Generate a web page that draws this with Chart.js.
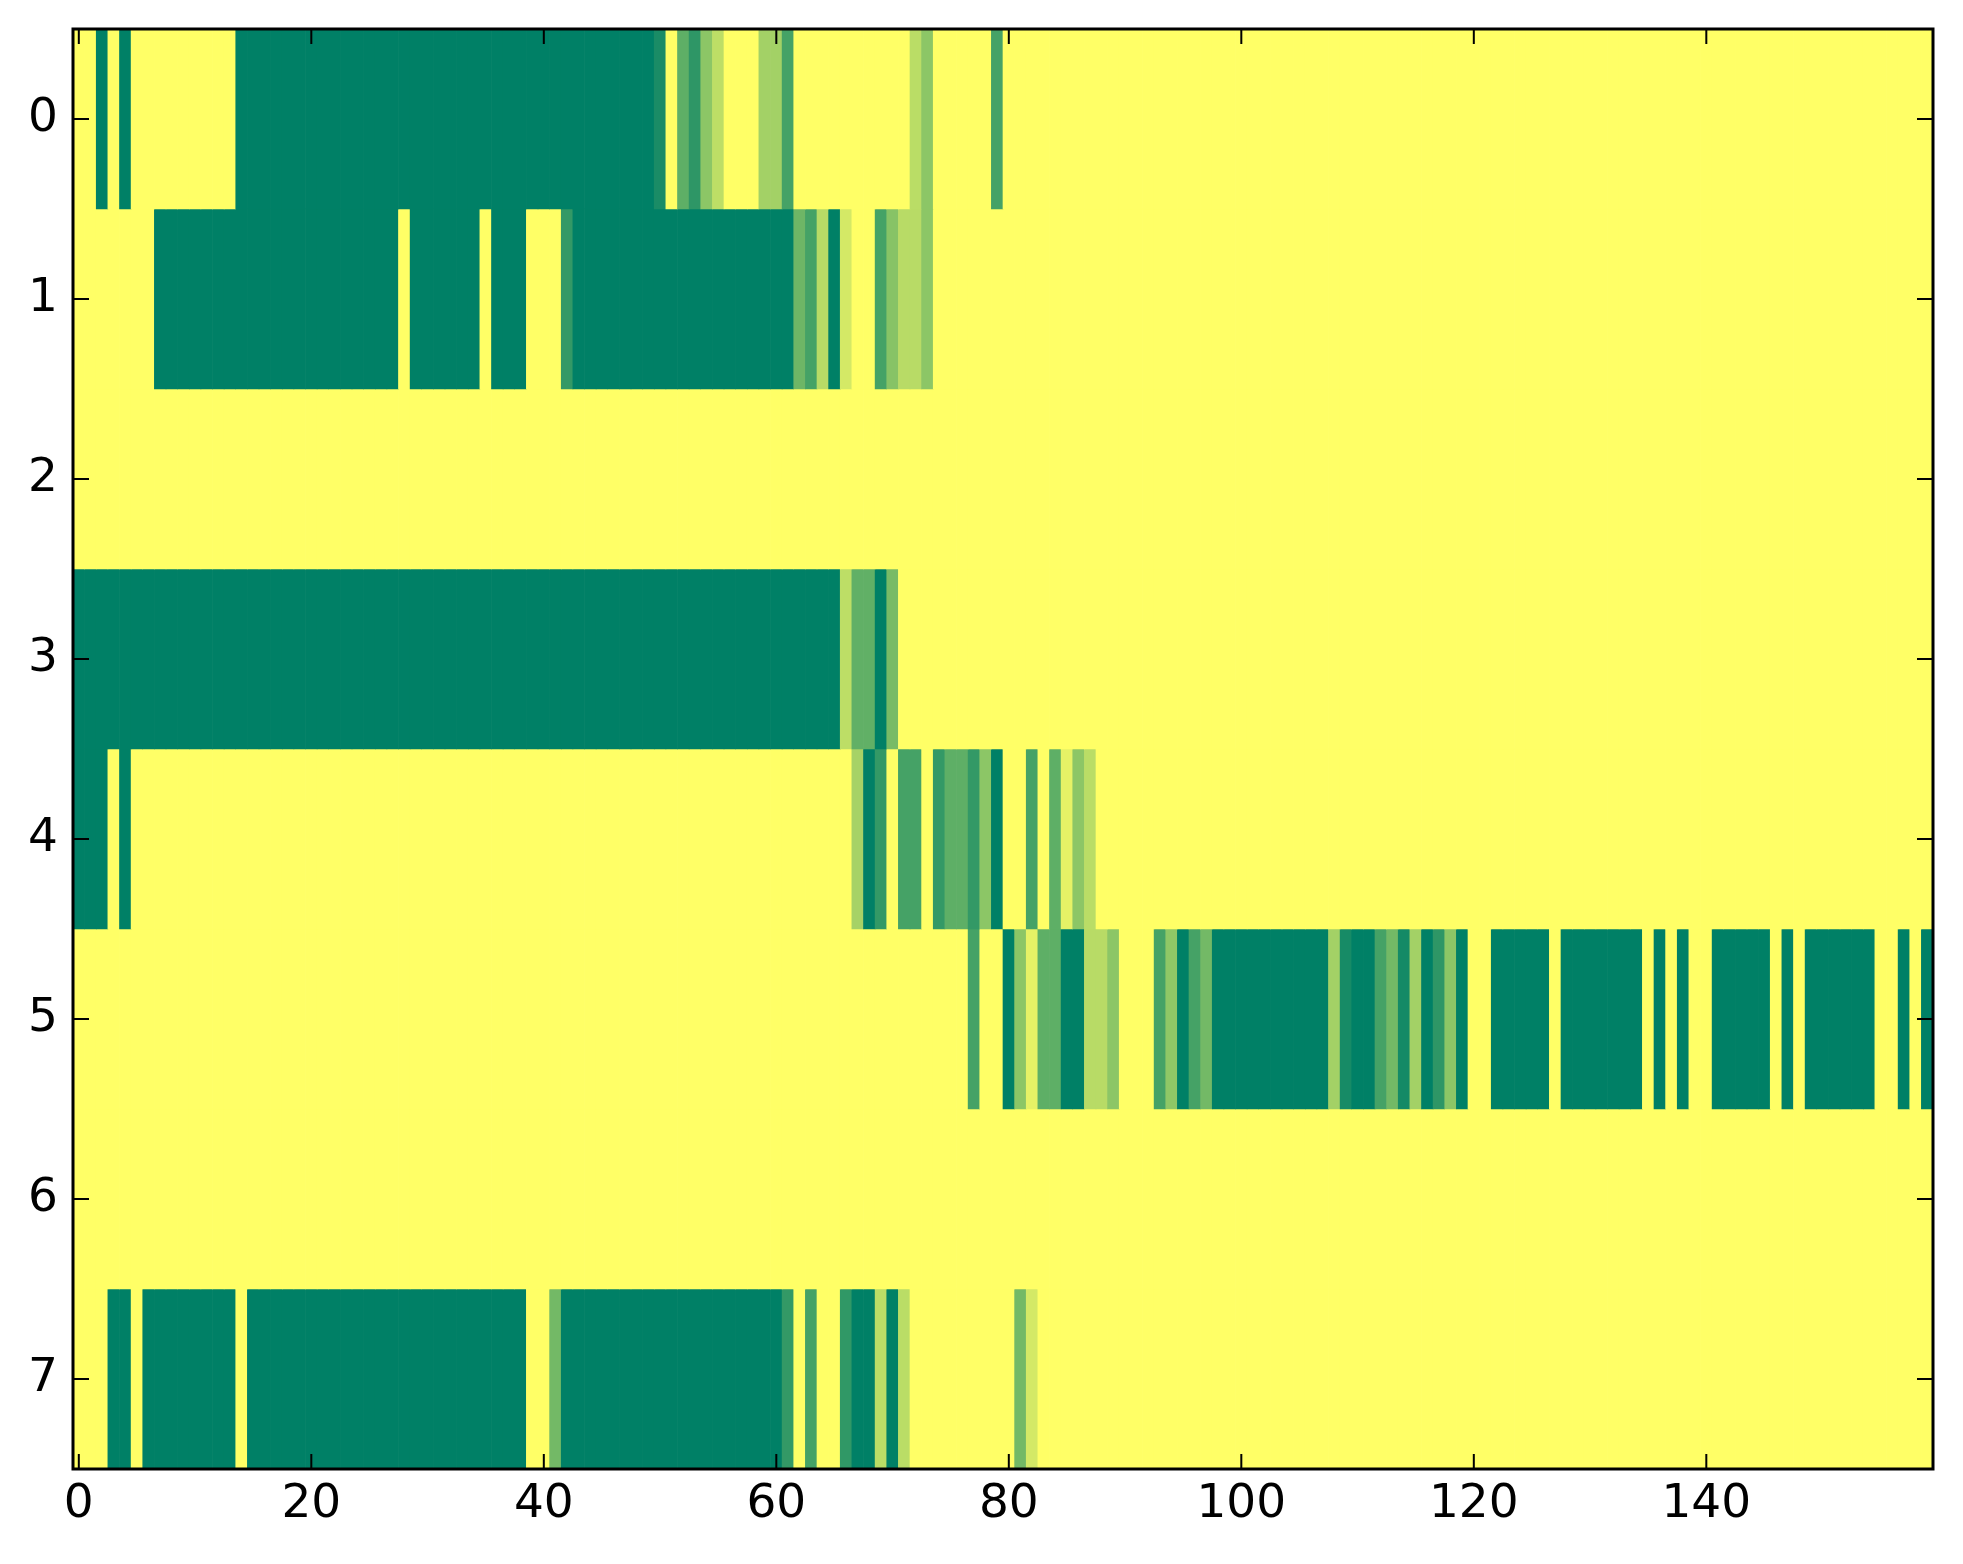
<!DOCTYPE html>
<html>
<head>
<meta charset="utf-8">
<script src="https://cdn.jsdelivr.net/npm/chart.js@4.4.1/dist/chart.umd.min.js"></script>
<style>
  html, body { margin: 0; padding: 0; background: #fff; }
  canvas { display: block; }
</style>
</head>
<body>
<canvas id="heat" width="1963" height="1564"></canvas>
<script>
// valores de cada linha (0 = verde, 1 = amarelo), 160 colunas
const row0 = [
  1,1,0,1,0,1,1,1,1,1,1,1,1,1,0,0,0,0,0,0,
  0,0,0,0,0,0,0,0,0,0,0,0,0,0,0,0,0,0,0,0,
  0,0,0,0,0,0,0,0,0,0,0.1,1,0.37,0.18,0.55,0.74,1,1,1,0.64,
  0.64,0.27,1,1,1,1,1,1,1,1,1,1,0.73,0.55,1,1,1,1,1,0.27,
  1,1,1,1,1,1,1,1,1,1,1,1,1,1,1,1,1,1,1,1,
  1,1,1,1,1,1,1,1,1,1,1,1,1,1,1,1,1,1,1,1,
  1,1,1,1,1,1,1,1,1,1,1,1,1,1,1,1,1,1,1,1,
  1,1,1,1,1,1,1,1,1,1,1,1,1,1,1,1,1,1,1,1
];
const row1 = [
  1,1,1,1,1,1,1,0,0,0,0,0,0,0,0,0,0,0,0,0,
  0,0,0,0,0,0,0,0,1,0,0,0,0,0,0,1,0,0,0,1,
  1,1,0.2,0,0,0,0,0,0,0,0,0,0,0,0,0,0,0,0,0,
  0,0,0.43,0.27,0.72,0,0.83,1,1,0.27,0.53,0.72,0.72,0.55,1,1,1,1,1,1,
  1,1,1,1,1,1,1,1,1,1,1,1,1,1,1,1,1,1,1,1,
  1,1,1,1,1,1,1,1,1,1,1,1,1,1,1,1,1,1,1,1,
  1,1,1,1,1,1,1,1,1,1,1,1,1,1,1,1,1,1,1,1,
  1,1,1,1,1,1,1,1,1,1,1,1,1,1,1,1,1,1,1,1
];
const row2 = [
  1,1,1,1,1,1,1,1,1,1,1,1,1,1,1,1,1,1,1,1,
  1,1,1,1,1,1,1,1,1,1,1,1,1,1,1,1,1,1,1,1,
  1,1,1,1,1,1,1,1,1,1,1,1,1,1,1,1,1,1,1,1,
  1,1,1,1,1,1,1,1,1,1,1,1,1,1,1,1,1,1,1,1,
  1,1,1,1,1,1,1,1,1,1,1,1,1,1,1,1,1,1,1,1,
  1,1,1,1,1,1,1,1,1,1,1,1,1,1,1,1,1,1,1,1,
  1,1,1,1,1,1,1,1,1,1,1,1,1,1,1,1,1,1,1,1,
  1,1,1,1,1,1,1,1,1,1,1,1,1,1,1,1,1,1,1,1
];
const row3 = [
  0,0,0,0,0,0,0,0,0,0,0,0,0,0,0,0,0,0,0,0,
  0,0,0,0,0,0,0,0,0,0,0,0,0,0,0,0,0,0,0,0,
  0,0,0,0,0,0,0,0,0,0,0,0,0,0,0,0,0,0,0,0,
  0,0,0,0,0,0,0.74,0.38,0.38,0,0.47,1,1,1,1,1,1,1,1,1,
  1,1,1,1,1,1,1,1,1,1,1,1,1,1,1,1,1,1,1,1,
  1,1,1,1,1,1,1,1,1,1,1,1,1,1,1,1,1,1,1,1,
  1,1,1,1,1,1,1,1,1,1,1,1,1,1,1,1,1,1,1,1,
  1,1,1,1,1,1,1,1,1,1,1,1,1,1,1,1,1,1,1,1
];
const row4 = [
  0,0,0,1,0,1,1,1,1,1,1,1,1,1,1,1,1,1,1,1,
  1,1,1,1,1,1,1,1,1,1,1,1,1,1,1,1,1,1,1,1,
  1,1,1,1,1,1,1,1,1,1,1,1,1,1,1,1,1,1,1,1,
  1,1,1,1,1,1,1,0.65,0,0.2,1,0.27,0.27,1,0.2,0.37,0.37,0.2,0.55,0,
  1,1,0.27,1,0.37,0.9,0.55,0.73,1,1,1,1,1,1,1,1,1,1,1,1,
  1,1,1,1,1,1,1,1,1,1,1,1,1,1,1,1,1,1,1,1,
  1,1,1,1,1,1,1,1,1,1,1,1,1,1,1,1,1,1,1,1,
  1,1,1,1,1,1,1,1,1,1,1,1,1,1,1,1,1,1,1,1
];
const row5 = [
  1,1,1,1,1,1,1,1,1,1,1,1,1,1,1,1,1,1,1,1,
  1,1,1,1,1,1,1,1,1,1,1,1,1,1,1,1,1,1,1,1,
  1,1,1,1,1,1,1,1,1,1,1,1,1,1,1,1,1,1,1,1,
  1,1,1,1,1,1,1,1,1,1,1,1,1,1,1,1,1,0.27,1,1,
  0,0.55,0.9,0.37,0.37,0,0,0.72,0.72,0.55,1,1,1,0.27,0.56,0,0.27,0.45,0,0,
  0,0,0,0,0,0,0,0,0.64,0.09,0,0,0.27,0.45,0.08,0.64,0,0.18,0.55,0,
  1,1,0,0,0,0,0,1,0,0,0,0,0,0,0,1,0,1,0,1,
  1,0,0,0,0,0,1,0,1,0,0,0,0,0,0,1,1,0,1,0
];
const row6 = [
  1,1,1,1,1,1,1,1,1,1,1,1,1,1,1,1,1,1,1,1,
  1,1,1,1,1,1,1,1,1,1,1,1,1,1,1,1,1,1,1,1,
  1,1,1,1,1,1,1,1,1,1,1,1,1,1,1,1,1,1,1,1,
  1,1,1,1,1,1,1,1,1,1,1,1,1,1,1,1,1,1,1,1,
  1,1,1,1,1,1,1,1,1,1,1,1,1,1,1,1,1,1,1,1,
  1,1,1,1,1,1,1,1,1,1,1,1,1,1,1,1,1,1,1,1,
  1,1,1,1,1,1,1,1,1,1,1,1,1,1,1,1,1,1,1,1,
  1,1,1,1,1,1,1,1,1,1,1,1,1,1,1,1,1,1,1,1
];
const row7 = [
  1,1,1,0,0,1,0,0,0,0,0,0,0,0,1,0,0,0,0,0,
  0,0,0,0,0,0,0,0,0,0,0,0,0,0,0,0,0,0,0,1,
  1,0.45,0,0,0,0,0,0,0,0,0,0,0,0,0,0,0,0,0,0,
  0,0.2,1,0.27,1,1,0.19,0,0,0.73,0,0.73,1,1,1,1,1,1,1,1,
  1,0.45,0.83,1,1,1,1,1,1,1,1,1,1,1,1,1,1,1,1,1,
  1,1,1,1,1,1,1,1,1,1,1,1,1,1,1,1,1,1,1,1,
  1,1,1,1,1,1,1,1,1,1,1,1,1,1,1,1,1,1,1,1,
  1,1,1,1,1,1,1,1,1,1,1,1,1,1,1,1,1,1,1,1
];
const rows = [row0, row1, row2, row3, row4, row5, row6, row7];

// rótulos dos eixos
const xTicks = [0, 20, 40, 60, 80, 100, 120, 140];
const yTicks = [0, 1, 2, 3, 4, 5, 6, 7];

// mapa de cores "summer" (verde -> amarelo)
function summer(v) {
  return 'rgb(' + Math.round(255 * v) + ',' + Math.round(255 * (0.5 + 0.5 * v)) + ',102)';
}

// cada linha vira um conjunto de barras flutuantes [r-0.5, r+0.5]
const datasets = rows.map((vals, r) => ({
  label: 'linha ' + r,
  data: vals.map((v, i) => ({ x: i, y: [r - 0.5, r + 0.5] })),
  backgroundColor: vals.map(summer),
  borderWidth: 0,
  barPercentage: 1,
  categoryPercentage: 1,
  grouped: false
}));

// moldura e marcas de escala para dentro, como no matplotlib
const moldura = {
  id: 'moldura',
  afterDatasetsDraw(chart) {
    const { ctx, chartArea: a, scales: { x, y } } = chart;
    ctx.save();
    ctx.strokeStyle = '#000';
    ctx.lineWidth = 2;
    ctx.beginPath();
    xTicks.forEach(v => {
      const px = x.getPixelForValue(v);
      ctx.moveTo(px, a.bottom); ctx.lineTo(px, a.bottom - 15);
      ctx.moveTo(px, a.top); ctx.lineTo(px, a.top + 15);
    });
    yTicks.forEach(v => {
      const py = y.getPixelForValue(v);
      ctx.moveTo(a.left, py); ctx.lineTo(a.left + 16, py);
      ctx.moveTo(a.right, py); ctx.lineTo(a.right - 16, py);
    });
    ctx.stroke();
    ctx.lineWidth = 3;
    ctx.strokeRect(a.left, a.top, a.right - a.left, a.bottom - a.top);
    ctx.restore();
  }
};

const fonte = { family: 'DejaVu Sans', size: 47 };

const ctx = document.getElementById('heat').getContext('2d');
const heatChart = new Chart(ctx, {
  type: 'bar',
  data: { datasets: datasets },
  options: {
    responsive: false,
    animation: false,
    devicePixelRatio: 1,
    layout: { padding: { top: 29, right: 30, left: 0, bottom: 0 } },
    plugins: { legend: { display: false }, tooltip: { enabled: false } },
    scales: {
      x: {
        type: 'linear',
        min: -0.5,
        max: 159.5,
        offset: false,
        grid: { display: false, drawTicks: false, offset: false },
        border: { display: false },
        ticks: { font: fonte, color: '#000', padding: 8, maxRotation: 0, autoSkip: false },
        afterBuildTicks: s => { s.ticks = xTicks.map(v => ({ value: v })); },
        afterFit: s => { s.height = 95; s.paddingLeft = 0; s.paddingRight = 0; }
      },
      y: {
        type: 'linear',
        reverse: true,
        min: -0.5,
        max: 7.5,
        grid: { display: false, drawTicks: false },
        border: { display: false },
        ticks: { font: fonte, color: '#000', padding: 15 },
        afterBuildTicks: s => { s.ticks = yTicks.map(v => ({ value: v })); },
        afterFit: s => { s.width = 73; s.paddingTop = 0; s.paddingBottom = 0; }
      }
    }
  },
  plugins: [moldura]
});
</script>
</body>
</html>
